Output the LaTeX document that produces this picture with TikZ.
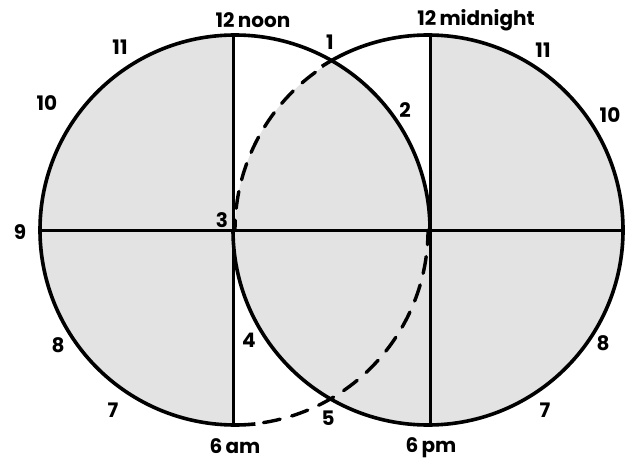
\documentclass[tikz,border=0pt]{standalone}
\usepackage{fontspec}
\setmainfont{Poppins}
\begin{document}
\begin{tikzpicture}[x=1pt,y=1pt,
  lbl/.style={font=\fontsize{20}{20}\selectfont\bfseries, inner sep=0pt},
  shadearea/.style={fill=black!11},
  rim/.style={line width=3.6pt},
  axisline/.style={line width=3pt},
  dashrim/.style={line width=3.4pt, line cap=round, dash pattern=on 17pt off 12pt}]
\useasboundingbox (0,0) rectangle (631,464);
\def\r{195}
\coordinate (L) at (233,234);
\coordinate (R) at (430,234);
\coordinate (Ltop) at (233,429);
\coordinate (Lbot) at (233,39);
\coordinate (Rtop) at (430,429);
\coordinate (Rbot) at (430,39);
\coordinate (W) at (38,234);
\coordinate (E) at (625,234);
% shaded regions
\fill[shadearea] (Ltop) arc[start angle=90,end angle=270,radius=\r] -- cycle;
\fill[shadearea] (Rbot) arc[start angle=-90,end angle=90,radius=\r] -- cycle;
\fill[shadearea] (L) arc[start angle=180,end angle=360,radius=\r] -- cycle;
\fill[shadearea] (R) arc[start angle=0,end angle=60,radius=\r] arc[start angle=120,end angle=180,radius=\r] -- cycle;
% axes
\draw[axisline] (Ltop) -- (Lbot);
\draw[axisline] (Rtop) -- (Rbot);
\draw[axisline] (W) -- (E);
% circles
\draw[rim] (R) arc[start angle=0,end angle=276,radius=\r];
\draw[dashrim] (L) ++(279:\r) arc[start angle=279,end angle=360,radius=\r];
\draw[rim] (L) arc[start angle=180,end angle=483,radius=\r];
\draw[dashrim] (R) ++(126:\r) arc[start angle=126,end angle=180,radius=\r];
% labels
\node[lbl] (noon) at (253,444) {12\,noon};
\node[lbl] (midnight) at (476,444) {12\,midnight};
\node[lbl] (p1) at (330,422) {1};
\node[lbl] (p2) at (405,354) {2};
\node[lbl] (p3) at (222,244) {3};
\node[lbl] (p4) at (249,124) {4};
\node[lbl] (p5) at (328,46) {5};
\node[lbl,anchor=base] (am) at (235,11) {6\,am};
\node[lbl,anchor=base] (pm) at (431,12) {6\,pm};
\node[lbl] (l11) at (120,417) {11};
\node[lbl] (l10) at (47,361) {10};
\node[lbl] (l9) at (20,232) {9};
\node[lbl] (l8) at (58,119) {8};
\node[lbl] (l7) at (113,54) {7};
\node[lbl] (r11) at (543,414) {11};
\node[lbl] (r10) at (610,349) {10};
\node[lbl] (r9) at (637,232) {9};
\node[lbl] (r8) at (603,121) {8};
\node[lbl] (r7) at (545,54) {7};
\end{tikzpicture}
\end{document}
